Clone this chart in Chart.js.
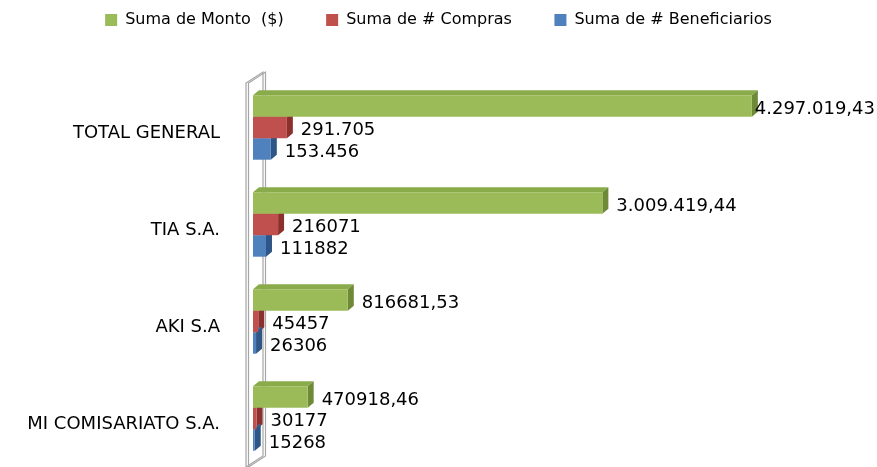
<!DOCTYPE html>
<html>
<head>
<meta charset="utf-8">
<script src="https://cdn.jsdelivr.net/npm/chart.js@4"></script>
<style>
  html, body { margin: 0; padding: 0; background: #fff; overflow: hidden; }
  #wrap { width: 877px; height: 467px; }
</style>
</head>
<body>
<div id="wrap"><canvas id="montoChart"></canvas></div>
<script>
const categories = ['TOTAL GENERAL', 'TIA S.A.', 'AKI S.A', 'MI COMISARIATO S.A.'];

const monto = [4297019.43, 3009419.44, 816681.53, 470918.46];
const compras = [291705, 216071, 45457, 30177];
const beneficiarios = [153456, 111882, 26306, 15268];

// labels as they are written on the chart
const montoLabels = ['4.297.019,43', '3.009.419,44', '816681,53', '470918,46'];
const comprasLabels = ['291.705', '216071', '45457', '30177'];
const beneficiariosLabels = ['153.456', '111882', '26306', '15268'];

Chart.defaults.font.family = 'DejaVu Sans';
Chart.defaults.color = '#000';

const DX = 6, DY = 5; // depth of the 3d bars

// legend needs more room below it
const legendSpace = {
    id: 'legendSpace',
    beforeInit(chart) {
        const fit = chart.legend.fit;
        chart.legend.fit = function () {
            fit.call(this);
            this.height = 79;
        };
    }
};

// wall + top and side faces, drawn before the front faces
const depth = {
    id: 'depth',
    beforeDatasetsDraw(chart) {
        const ctx = chart.ctx;
        const a = chart.chartArea;
        ctx.save();
        ctx.strokeStyle = '#a6a6a6';
        ctx.lineWidth = 1.2;
        [0, 2.5].forEach(off => {
            ctx.beginPath();
            ctx.moveTo(a.left - 7 + off, a.bottom);
            ctx.lineTo(a.left - 7 + off, a.top + 4);
            ctx.lineTo(a.left + 10 + off, a.top - 7);
            ctx.lineTo(a.left + 10 + off, a.bottom - 11);
            ctx.closePath();
            ctx.stroke();
        });

        chart.data.datasets.forEach((ds, i) => {
            chart.getDatasetMeta(i).data.forEach(bar => {
                const {x, y, base, height} = bar.getProps(['x', 'y', 'base', 'height'], true);
                const top = y - height / 2, bot = y + height / 2;
                ctx.fillStyle = ds.topColor;
                ctx.beginPath();
                ctx.moveTo(base, top);
                ctx.lineTo(base + DX, top - DY);
                ctx.lineTo(x + DX, top - DY);
                ctx.lineTo(x, top);
                ctx.closePath();
                ctx.fill();
                ctx.fillStyle = ds.sideColor;
                ctx.beginPath();
                ctx.moveTo(x, top);
                ctx.lineTo(x + DX, top - DY);
                ctx.lineTo(x + DX, bot - DY);
                ctx.lineTo(x, bot);
                ctx.closePath();
                ctx.fill();
            });
        });
        ctx.restore();
    }
};

const valueLabels = {
    id: 'valueLabels',
    afterDatasetsDraw(chart) {
        const ctx = chart.ctx;
        ctx.save();
        ctx.font = '18px "DejaVu Sans"';
        ctx.fillStyle = '#000';
        ctx.textBaseline = 'middle';
        chart.data.datasets.forEach((ds, i) => {
            chart.getDatasetMeta(i).data.forEach((bar, j) => {
                const txt = ds.valueText[j];
                const w = ctx.measureText(txt).width;
                const tx = Math.min(bar.x + 14, chart.width - w - 2);
                ctx.fillText(txt, tx, bar.y + 3);
            });
        });
        ctx.restore();
    }
};

new Chart(document.getElementById('montoChart'), {
    type: 'bar',
    data: {
        labels: categories,
        datasets: [
            {
                label: 'Suma de Monto  ($)',
                data: monto,
                valueText: montoLabels,
                backgroundColor: '#9bbb59',
                topColor: '#8aab4a',
                sideColor: '#6f8a37'
            },
            {
                label: 'Suma de # Compras',
                data: compras,
                valueText: comprasLabels,
                backgroundColor: '#c0504d',
                topColor: '#a94441',
                sideColor: '#8c302e'
            },
            {
                label: 'Suma de # Beneficiarios',
                data: beneficiarios,
                valueText: beneficiariosLabels,
                backgroundColor: '#4f81bd',
                topColor: '#4271a8',
                sideColor: '#2e5686'
            }
        ]
    },
    options: {
        indexAxis: 'y',
        responsive: true,
        maintainAspectRatio: false,
        animation: false,
        layout: { padding: 0 },
        datasets: {
            bar: { categoryPercentage: 0.664, barPercentage: 1, borderWidth: 0 }
        },
        plugins: {
            legend: {
                labels: {
                    boxWidth: 12,
                    boxHeight: 12,
                    padding: 12,
                    color: '#000',
                    font: { size: 16 },
                    // wider gaps between the legend items
                    generateLabels(chart) {
                        const items = Chart.defaults.plugins.legend.labels.generateLabels(chart);
                        items.forEach((it, k) => {
                            if (k < items.length - 1) it.text += '      ';
                        });
                        return items;
                    }
                }
            },
            tooltip: { enabled: false }
        },
        scales: {
            x: { display: false, min: 0, max: 5375000 },
            y: {
                grid: { display: false },
                border: { display: false },
                ticks: { padding: 25, labelOffset: 6, color: '#000', font: { size: 18 } },
                afterFit: s => {
                    s.width = 253;
                    // no extra room above/below for the first and last label
                    s.paddingTop = 0;
                    s.paddingBottom = 0;
                }
            }
        }
    },
    plugins: [legendSpace, depth, valueLabels]
});
</script>
</body>
</html>
